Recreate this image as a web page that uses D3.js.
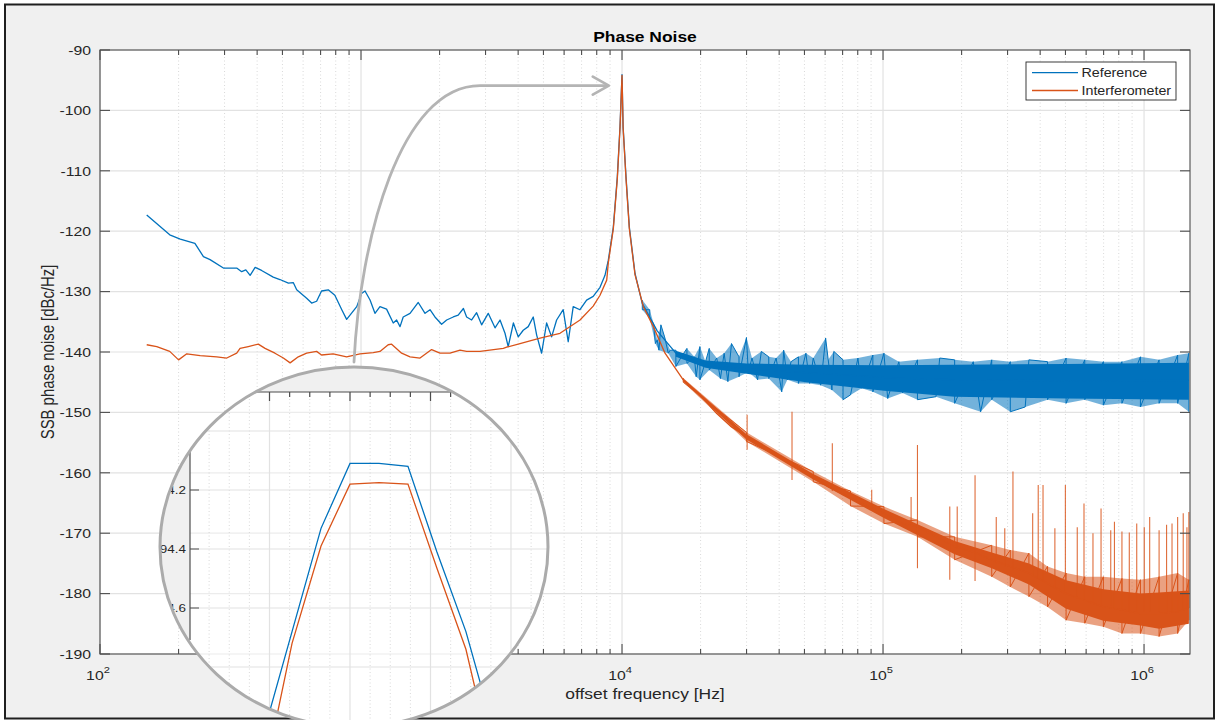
<!DOCTYPE html>
<html>
<head>
<meta charset="utf-8">
<script src="https://cdn.jsdelivr.net/npm/d3@7"></script>
<style>
  html, body { margin: 0; padding: 0; background: #fff; }
  svg { display: block; }
  text { font-family: "Liberation Sans", Arial, Helvetica, sans-serif; }
</style>
</head>
<body>
<svg id="chart" width="1221" height="720"></svg>
<script>
// ---------------------------------------------------------------
// Data: single-sideband phase noise, offset frequency in Hz, dBc/Hz
// ---------------------------------------------------------------
const yTickValues = [-90, -100, -110, -120, -130, -140, -150, -160, -170, -180, -190];
const xDecadeTicks = [100, 1000, 10000, 100000, 1000000];
const xDecadeExponents = ["2", "3", "4", "5", "6"];
const seriesNames = ["Reference", "Interferometer"];

// Reference trace (smoothed part and carrier)
const refTrace = [
  [151,-117.3],[185,-120.6],[203,-121.3],[231,-122.0],[249,-124.2],[264,-124.7],[297,-126.1],[334,-126.1],
  [349,-126.7],[362,-126.4],[376,-127.3],[393,-126.0],[416,-126.5],[461,-127.6],[489,-128.0],[527,-128.6],
  [550,-128.5],[567,-129.7],[619,-131.1],[647,-131.9],[676,-131.6],[706,-129.9],[749,-129.7],[794,-130.6],
  [844,-133.0],[881,-134.6],[963,-132.5],[1005,-130.3],[1036,-129.9],[1083,-131.4],[1131,-133.6],[1182,-132.5],
  [1253,-132.9],[1329,-135.2],[1369,-134.7],[1411,-135.8],[1451,-134.2],[1541,-133.6],[1657,-131.8],[1759,-133.6],
  [1838,-133.0],[1920,-134.2],[2036,-135.4],[2129,-134.7],[2256,-134.2],[2357,-133.9],[2468,-132.8],[2539,-134.2],
  [2654,-134.7],[2773,-133.5],[2898,-135.5],[3072,-133.6],[3262,-136.0],[3409,-134.7],[3562,-136.9],[3664,-139.1],
  [3836,-135.2],[4002,-137.5],[4183,-136.4],[4372,-135.8],[4569,-134.2],[4710,-137.2],[4920,-140.2],[5141,-135.2],
  [5374,-137.5],[5616,-134.7],[5952,-133.0],[6221,-138.3],[6501,-132.5],[6900,-133.0],[7317,-131.4],[7755,-130.8],
  [8236,-129.3],[8606,-127.3],[8862,-124.8],[9262,-119.3],[9594,-111.0],[9824,-102.7],[10000,-94.1],[10097,-102.7],
  [10359,-111.0],[10666,-119.3],[11215,-127.0],[11960,-132.0],[13640,-136.5],[16080,-140.2],[20890,-142.2],
  [30000,-142.8],[50640,-143.4],[100800,-144.2],[188100,-144.6],[502800,-144.8],[1485000,-144.7]
];

// Reference noise floor: outer excursions (upper and lower edge) and dense core
const refNoiseTop = [
  [11960,-131.4],[12770,-133.0],[13210,-135.3],[13640,-138.0],[14090,-135.5],[14560,-137.5],[15300,-139.7],
  [16080,-139.7],[16880,-140.8],[17730,-139.4],[18920,-140.8],[19880,-139.1],[20890,-141.6],[21590,-139.4],
  [23060,-141.0],[24620,-140.2],[26270,-138.6],[28070,-140.8],[29970,-137.6],[31480,-141.0],[34180,-139.9],
  [36490,-140.8],[38950,-141.0],[41620,-139.7],[44420,-141.6],[47410,-140.8],[50640,-140.2],[54040,-141.0],
  [60270,-137.7],[61660,-141.3],[64790,-139.9],[70270,-141.3],[80130,-141.0],[91410,-140.5],[100800,-140.2],
  [115000,-141.6],[135500,-141.3],[164900,-141.0],[188100,-141.3],[221600,-141.6],[260900,-141.3],[307300,-141.6],
  [362200,-141.3],[426900,-141.6],[502800,-141.0],[592800,-141.3],[698500,-141.6],[822900,-141.6],[968700,-140.8],
  [1142000,-141.3],[1345000,-140.5],[1485000,-140.2]
];
const refNoiseBottom = [
  [11960,-133.0],[12770,-134.5],[13420,-138.6],[13850,-139.7],[15040,-140.2],[16080,-142.4],[17730,-141.9],
  [19240,-144.1],[19880,-144.6],[21590,-143.0],[23820,-144.4],[25440,-144.9],[28070,-144.1],[30470,-143.3],
  [33050,-144.6],[36490,-144.4],[40920,-146.6],[42990,-144.6],[47410,-145.2],[52340,-145.2],[57710,-145.5],
  [63710,-146.3],[70270,-147.9],[75070,-147.1],[82790,-146.0],[91410,-146.6],[104200,-147.7],[118800,-146.8],
  [135500,-147.9],[159600,-147.4],[188100,-148.5],[236500,-149.9],[260900,-147.9],[307300,-149.9],[350500,-149.1],
  [426900,-147.9],[502800,-148.5],[592800,-147.9],[698500,-148.8],[822900,-148.5],[968700,-149.1],[1142000,-148.5],
  [1345000,-148.5],[1485000,-149.9]
];
const refCoreTop = [
  [16080,-139.8],[20890,-141.4],[30000,-141.9],[50640,-142.1],[100800,-142.2],[188100,-142.1],[502800,-142.0],[1485000,-141.8]
];
const refCoreBottom = [
  [16080,-140.8],[20890,-142.6],[30000,-143.6],[50640,-145.0],[100800,-146.4],[188100,-147.4],[502800,-147.7],[1485000,-147.9]
];

// Interferometer trace
const ifmTrace = [
  [151,-138.8],[165,-139.1],[185,-139.9],[200,-141.3],[215,-140.3],[242,-140.6],[280,-140.8],[306,-141.0],
  [334,-140.2],[344,-139.4],[370,-139.1],[404,-138.7],[429,-139.4],[468,-140.2],[504,-141.0],[535,-141.8],
  [575,-140.8],[619,-140.2],[676,-139.9],[706,-140.5],[782,-140.3],[881,-140.8],[991,-140.3],[1114,-140.1],
  [1182,-139.9],[1271,-138.8],[1310,-138.7],[1431,-140.2],[1541,-140.8],[1683,-141.0],[1864,-139.6],[2007,-140.2],
  [2193,-140.2],[2395,-139.7],[2539,-139.9],[2857,-139.9],[3510,-139.4],[3614,-139.2],[4066,-138.6],[4851,-137.7],
  [5786,-136.9],[6904,-134.7],[7755,-132.4],[8236,-130.6],[8737,-128.1],[8862,-125.2],[9262,-119.6],[9594,-111.3],
  [9824,-102.9],[10000,-94.2],[10097,-102.9],[10359,-111.3],[10666,-119.6],[11215,-127.2],[12071,-132.5],
  [13183,-135.8],[14614,-140.2],[17160,-144.6],[19880,-147.1],[23060,-150.2],[26270,-152.4],[29970,-154.0],
  [36490,-156.2],[44420,-158.4],[54040,-160.6],[61660,-162.3],[75070,-164.2],[100800,-166.7],[118800,-168.4],
  [135500,-168.9],[159600,-170.6],[188100,-172.2],[221600,-173.1],[260900,-174.4],[307300,-175.5],[362200,-176.6],
  [426900,-178.3],[502800,-180.0],[592800,-181.1],[698500,-182.2],[822900,-182.7],[968700,-183.3],[1142000,-183.3],
  [1345000,-183.0],[1485000,-182.4]
];
const ifmNoiseTop = [
  [17160,-144.3],[29970,-153.3],[54040,-159.8],[75070,-163.0],[100800,-165.6],[135500,-167.8],[188100,-170.6],
  [260900,-172.0],[307300,-172.8],[362200,-173.3],[426900,-175.5],[502800,-176.6],[592800,-177.2],[698500,-177.2],
  [822900,-177.5],[968700,-177.7],[1142000,-177.2],[1345000,-176.6],[1485000,-177.7]
];
const ifmNoiseBottom = [
  [17160,-145.0],[29970,-154.8],[54040,-161.5],[75070,-165.5],[100800,-168.4],[135500,-170.6],[188100,-174.4],
  [260900,-177.2],[307300,-178.9],[362200,-180.5],[426900,-182.2],[502800,-184.4],[592800,-184.9],[698500,-185.5],
  [822900,-186.6],[968700,-186.6],[1142000,-187.1],[1345000,-186.6],[1485000,-184.4]
];
const ifmCoreTop = [
  [17160,-144.4],[29970,-153.6],[54040,-160.2],[100800,-166.0],[188100,-171.3],[260900,-173.2],[362200,-175.0],
  [502800,-177.8],[698500,-179.3],[968700,-180.0],[1142000,-179.8],[1485000,-179.5]
];
const ifmCoreBottom = [
  [17160,-144.9],[29970,-154.5],[54040,-161.1],[100800,-167.5],[188100,-173.5],[260900,-175.8],[362200,-178.5],
  [502800,-182.5],[698500,-184.5],[968700,-185.3],[1142000,-185.8],[1485000,-185.0]
];
// Discrete spurs: [frequency, peak level, foot level]
const ifmSpurs = [
  [30150,-150.4,-156.2],[44800,-149.9,-161.2],[63930,-155.1,-163.0],[90500,-162.8,-166.0],[128100,-164.0,-168.5],
  [135500,-155.4,-175.8],[180200,-165.6,-177.7],[192400,-165.6,-172.5],[225200,-160.4,-177.9],[271500,-167.3,-175.0],
  [292700,-169.2,-175.5],[314600,-159.8,-176.0],[374400,-166.7,-177.0],[393200,-162.0,-177.5],[410200,-162.0,-178.0],
  [455400,-169.2,-179.0],[499600,-162.0,-179.5],[554800,-169.0,-180.5],[588800,-165.1,-181.0],[637300,-170.0,-181.5],
  [684300,-165.9,-182.0],[745500,-169.5,-182.0],[770200,-168.1,-182.5],[822900,-169.7,-182.5],[878000,-169.9,-183.0],
  [937600,-168.4,-183.0],[1002000,-169.0,-183.0],[1051000,-167.3,-183.0],[1142000,-169.5,-183.0],[1220000,-168.6,-183.0],
  [1280000,-168.4,-183.0],[1345000,-167.3,-183.0],[1413000,-166.7,-182.5],[1460000,-169.0,-182.5],[1485000,-166.5,-182.4]
];

// Magnified view of the carrier peak
const insetFreq = [9998.92, 9999.28, 9999.64, 10000.00, 10000.36, 10000.72, 10001.08, 10001.44, 10001.80];
const insetRef  = [-95.03, -94.68, -94.33, -94.11, -94.11, -94.12, -94.41, -94.68, -95.03];
const insetIfm  = [-95.19, -94.72, -94.39, -94.18, -94.175, -94.18, -94.465, -94.74, -95.16];
const insetGridRows = [-94.0, -94.2, -94.4, -94.6, -94.8, -95.0];
const insetYTicks = [-94.2, -94.4, -94.6];
const insetYLabels = ["-94.2", "-94.4", "-94.6"];

// ---------------------------------------------------------------
// Layout and styles
// ---------------------------------------------------------------
const W = 1221, H = 720;
const plot = { left: 100, top: 50, right: 1190, bottom: 654 };
const colors = { ref: "#0072BD", ifm: "#D95319", axis: "#4d4d4d", text: "#262626",
                 grid: "#e2e2e2", minorGrid: "#cfcfcf", figure: "#f0f0f0" };
const SX = 1.17;        // horizontal glyph stretch of the figure text
const lens = { cx: 354, cy: 547, rx: 194, ry: 180 };

const svg = d3.select("#chart");
const defs = svg.append("defs");

const x = d3.scaleLog().domain([100, 1.5e6]).range([plot.left, plot.right]);
const y = d3.scaleLinear().domain([-190, -90]).range([plot.bottom, plot.top]);

function label(parent, px, py, str, o = {}) {
  const tf = o.rotate
    ? `translate(${px},${py}) rotate(${o.rotate}) scale(1,${SX})`
    : `translate(${px},${py}) scale(${SX},1)`;
  return parent.append("text")
    .attr("transform", tf)
    .attr("text-anchor", o.anchor || "start")
    .attr("font-size", o.size || 13.5)
    .attr("font-weight", o.weight || "normal")
    .attr("fill", o.fill || colors.text)
    .text(str);
}

// Figure background and frame
svg.append("rect").attr("width", W).attr("height", H).attr("fill", "#fff");
svg.append("rect").attr("x", 5).attr("y", 4.5).attr("width", 1209).attr("height", 714)
  .attr("fill", colors.figure).attr("stroke", "#1f1f1f").attr("stroke-width", 2);

// Axes background
svg.append("rect").attr("x", plot.left).attr("y", plot.top)
  .attr("width", plot.right - plot.left).attr("height", plot.bottom - plot.top).attr("fill", "#fff");

defs.append("clipPath").attr("id", "plotClip").append("rect")
  .attr("x", plot.left).attr("y", plot.top)
  .attr("width", plot.right - plot.left).attr("height", plot.bottom - plot.top);

const allXTicks = x.ticks();
const minorX = allXTicks.filter(v => !xDecadeTicks.includes(v));

// Grid
const grid = svg.append("g");
grid.selectAll(".mg").data(minorX).join("line")
  .attr("x1", d => x(d)).attr("x2", d => x(d)).attr("y1", plot.top).attr("y2", plot.bottom)
  .attr("stroke", colors.minorGrid).attr("stroke-width", 0.8).attr("stroke-dasharray", "1,2.5");
grid.selectAll(".gx").data(xDecadeTicks).join("line")
  .attr("x1", d => x(d)).attr("x2", d => x(d)).attr("y1", plot.top).attr("y2", plot.bottom)
  .attr("stroke", colors.grid).attr("stroke-width", 1.2);
grid.selectAll(".gy").data(yTickValues).join("line")
  .attr("x1", plot.left).attr("x2", plot.right).attr("y1", d => y(d)).attr("y2", d => y(d))
  .attr("stroke", colors.grid).attr("stroke-width", 1.2);

// Data
const data = svg.append("g").attr("clip-path", "url(#plotClip)");
const line = d3.line().x(d => x(d[0])).y(d => y(d[1]));
const band = (top, bottom) => line(top.concat(bottom.slice().reverse())) + "Z";
// the noise excursions, visited in frequency order, give the ragged trace
const excursions = (top, bottom) => top.concat(bottom).sort((a, b) => a[0] - b[0]);

function drawSeries(trace, nTop, nBot, cTop, cBot, color) {
  data.append("path").attr("d", band(nTop, nBot)).attr("fill", color).attr("fill-opacity", 0.55);
  data.append("path").attr("d", line(excursions(nTop, nBot))).attr("fill", "none")
    .attr("stroke", color).attr("stroke-width", 1).attr("stroke-linejoin", "miter");
  data.append("path").attr("d", band(cTop, cBot)).attr("fill", color);
  data.append("path").attr("d", line(trace)).attr("fill", "none")
    .attr("stroke", color).attr("stroke-width", 1.3).attr("stroke-linejoin", "round");
}
drawSeries(refTrace, refNoiseTop, refNoiseBottom, refCoreTop, refCoreBottom, colors.ref);
drawSeries(ifmTrace, ifmNoiseTop, ifmNoiseBottom, ifmCoreTop, ifmCoreBottom, colors.ifm);
data.selectAll(".spur").data(ifmSpurs).join("line")
  .attr("x1", d => x(d[0])).attr("x2", d => x(d[0]))
  .attr("y1", d => y(d[2])).attr("y2", d => y(d[1]))
  .attr("stroke", colors.ifm).attr("stroke-width", 1.1).attr("stroke-opacity", 0.85);

// Axes box and ticks (inward, mirrored)
const axes = svg.append("g").attr("stroke", colors.axis).attr("stroke-width", 1.1);
axes.append("rect").attr("x", plot.left).attr("y", plot.top)
  .attr("width", plot.right - plot.left).attr("height", plot.bottom - plot.top).attr("fill", "none");
[[plot.bottom, -1], [plot.top, 1]].forEach(([yy, dir]) => {
  axes.selectAll(null).data(xDecadeTicks).join("line")
    .attr("x1", d => x(d)).attr("x2", d => x(d)).attr("y1", yy).attr("y2", yy + dir * 10);
  axes.selectAll(null).data(minorX).join("line")
    .attr("x1", d => x(d)).attr("x2", d => x(d)).attr("y1", yy).attr("y2", yy + dir * 5);
});
[[plot.left, 1], [plot.right, -1]].forEach(([xx, dir]) => {
  axes.selectAll(null).data(yTickValues).join("line")
    .attr("x1", xx).attr("x2", xx + dir * 10).attr("y1", d => y(d)).attr("y2", d => y(d));
});

// Tick labels
const labels = svg.append("g");
yTickValues.forEach(v => label(labels, 91, y(v) + 4.8, String(v), { anchor: "end" }));
xDecadeTicks.forEach((v, i) => {
  const t = label(labels, x(v) - 2, 680, "10", { anchor: "middle" });
  t.append("tspan").attr("dy", -7.5).attr("font-size", 9.5).text(xDecadeExponents[i]);
});

// Titles
label(svg, (plot.left + plot.right) / 2, 42, "Phase Noise", { anchor: "middle", size: 14.9, weight: "bold", fill: "#000" });
label(svg, (plot.left + plot.right) / 2, 699, "offset frequency [Hz]", { anchor: "middle", size: 14.9 });
label(svg, 54, (plot.top + plot.bottom) / 2, "SSB phase noise [dBc/Hz]", { anchor: "middle", size: 14.9, rotate: -90 });

// Legend
const lg = svg.append("g");
lg.append("rect").attr("x", 1026).attr("y", 62).attr("width", 150).attr("height", 38)
  .attr("fill", "#fff").attr("stroke", "#262626").attr("stroke-width", 0.9);
[[colors.ref, 72.7], [colors.ifm, 90.5]].forEach(([c, ly], i) => {
  lg.append("line").attr("x1", 1032).attr("x2", 1078).attr("y1", ly).attr("y2", ly)
    .attr("stroke", c).attr("stroke-width", 1.3);
  label(lg, 1081.5, ly + 4.6, seriesNames[i], { size: 12.2 });
});

// ---------------------------------------------------------------
// Magnifier lens over the carrier peak
// ---------------------------------------------------------------
const ix = d3.scaleLinear().domain([9999, 10001]).range([269.5, 430.5]);
const iy = d3.scaleLinear().domain([-94.2, -94.6]).range([490, 608]);
const inset = { left: 190, top: 392, axisBottom: 640 };

defs.append("clipPath").attr("id", "lensClip").append("ellipse")
  .attr("cx", lens.cx).attr("cy", lens.cy).attr("rx", lens.rx).attr("ry", lens.ry);

const lg2 = svg.append("g").attr("clip-path", "url(#lensClip)");
const L0 = lens.cx - lens.rx, R0 = lens.cx + lens.rx, T0 = lens.cy - lens.ry, B0 = lens.cy + lens.ry;
lg2.append("rect").attr("x", L0).attr("y", T0).attr("width", R0 - L0).attr("height", B0 - T0).attr("fill", "#fff");

// faint main-grid rows seen through the glass
lg2.selectAll(null).data(yTickValues).join("line")
  .attr("x1", L0).attr("x2", R0).attr("y1", d => y(d)).attr("y2", d => y(d))
  .attr("stroke", "#ececec").attr("stroke-width", 1.2);

const ixMinor = d3.range(9997.5, 10002.51, 0.25).filter(v => Math.abs(v - Math.round(v)) > 1e-6);
const ixMajor = d3.range(9997, 10003, 1);
lg2.selectAll(null).data(ixMinor).join("line")
  .attr("x1", d => ix(d)).attr("x2", d => ix(d)).attr("y1", inset.top).attr("y2", B0)
  .attr("stroke", colors.minorGrid).attr("stroke-width", 0.8).attr("stroke-dasharray", "1,2.5");
lg2.selectAll(null).data(ixMajor).join("line")
  .attr("x1", d => ix(d)).attr("x2", d => ix(d)).attr("y1", inset.top).attr("y2", B0)
  .attr("stroke", colors.grid).attr("stroke-width", 1.2);
lg2.selectAll(null).data(insetGridRows).join("line")
  .attr("x1", inset.left).attr("x2", R0).attr("y1", d => iy(d)).attr("y2", d => iy(d))
  .attr("stroke", colors.grid).attr("stroke-width", 1.2);

const iline = d3.line().x(d => ix(d[0])).y(d => iy(d[1]));
lg2.append("path").attr("d", iline(insetFreq.map((f, i) => [f, insetRef[i]])))
  .attr("fill", "none").attr("stroke", colors.ref).attr("stroke-width", 1.3);
lg2.append("path").attr("d", iline(insetFreq.map((f, i) => [f, insetIfm[i]])))
  .attr("fill", "none").attr("stroke", colors.ifm).attr("stroke-width", 1.3);

// magnified figure margins and axes
lg2.append("rect").attr("x", L0).attr("y", T0).attr("width", R0 - L0).attr("height", inset.top - T0).attr("fill", colors.figure);
lg2.append("rect").attr("x", L0).attr("y", inset.top).attr("width", inset.left - L0)
  .attr("height", inset.axisBottom - inset.top).attr("fill", colors.figure);
const iax = lg2.append("g").attr("stroke", colors.axis).attr("stroke-width", 1.2);
iax.append("line").attr("x1", inset.left).attr("x2", R0).attr("y1", inset.top).attr("y2", inset.top);
iax.append("line").attr("x1", inset.left).attr("x2", inset.left).attr("y1", inset.top).attr("y2", inset.axisBottom);
iax.selectAll(null).data(ixMinor).join("line")
  .attr("x1", d => ix(d)).attr("x2", d => ix(d)).attr("y1", inset.top).attr("y2", inset.top + 5);
iax.selectAll(null).data(ixMajor).join("line")
  .attr("x1", d => ix(d)).attr("x2", d => ix(d)).attr("y1", inset.top).attr("y2", inset.top + 9);
iax.selectAll(null).data(insetYTicks).join("line")
  .attr("x1", inset.left).attr("x2", inset.left + 9).attr("y1", d => iy(d)).attr("y2", d => iy(d));
insetYTicks.forEach((v, i) => label(lg2, inset.left - 4, iy(v) + 4.3, insetYLabels[i], { anchor: "end", size: 11.5 }));

// lens rim
svg.append("ellipse").attr("cx", lens.cx).attr("cy", lens.cy).attr("rx", lens.rx).attr("ry", lens.ry)
  .attr("fill", "none").attr("stroke", "#ababab").attr("stroke-width", 3);

// Pointer from the lens to the carrier peak
const tip = [x(8900), y(-95.9)];
const start = [lens.cx, T0 - 5];
const arrow = svg.append("g").attr("fill", "none").attr("stroke", "#b4b4b4")
  .attr("stroke-width", 2.8).attr("stroke-linecap", "round").attr("stroke-linejoin", "round");
arrow.append("path").attr("d",
  `M${start[0]},${start[1]} C${start[0] + 6},${start[1] - 122} ${start[0] + 46},${tip[1]} ${start[0] + 126},${tip[1]} L${tip[0] - 2},${tip[1]}`);
arrow.append("path").attr("d", `M${tip[0] - 16},${tip[1] - 9} L${tip[0]},${tip[1]} L${tip[0] - 16},${tip[1] + 9}`);
</script>
</body>
</html>
